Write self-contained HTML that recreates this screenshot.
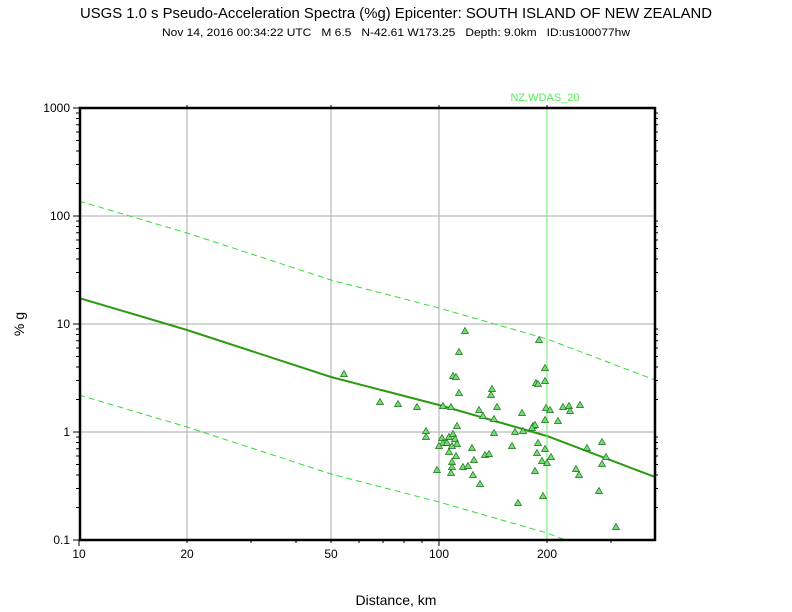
<!DOCTYPE html>
<html><head><meta charset="utf-8"><style>
html,body{margin:0;padding:0;background:#fff;}
svg{display:block;font-family:"Liberation Sans",sans-serif;}
</style></head><body>
<svg width="792" height="612" viewBox="0 0 792 612" xmlns="http://www.w3.org/2000/svg">
<defs>
<clipPath id="c"><rect x="80" y="108" width="575" height="432"/></clipPath>
<g id="yt">
<path d="M-3,-32.5h3M-3,-51.5h3M-3,-65h3M-3,-75.5h3M-3,-84h3M-3,-91.3h3M-3,-97.5h3M-3,-103h3" stroke="#000" stroke-width="1"/>
</g>
<g id="xt">
<path d="M108,0v3M172,0v3M217,0v3M252,0v3M280,0v3M304,0v3M325,0v3M343,0v3" stroke="#000" stroke-width="1"/>
</g>
<polygon id="t" points="0,-3.5 3.5,2.5 -3.5,2.5" fill="#6fe06f" stroke="#1a6a1a" stroke-width="0.7"/>
</defs>
<text x="396" y="18" font-size="15" text-anchor="middle" textLength="632" lengthAdjust="spacingAndGlyphs">USGS 1.0 s Pseudo-Acceleration Spectra (%g) Epicenter: SOUTH ISLAND OF NEW ZEALAND</text>
<text x="396" y="36" font-size="11" text-anchor="middle" xml:space="preserve" style="white-space:pre" textLength="468" lengthAdjust="spacingAndGlyphs">Nov 14, 2016 00:34:22 UTC   M 6.5   N-42.61 W173.25   Depth: 9.0km   ID:us100077hw</text>
<g stroke="#aaa" stroke-width="1">
<path d="M187,108V540M331,108V540M439,108V540M547,108V540"/>
<path d="M79,216H655M79,324H655M79,432H655"/>
</g>
<g clip-path="url(#c)">
<polyline points="79,298 187,330 331,377 439,405 547,436 655,477" fill="none" stroke="#2a9a10" stroke-width="2"/>
<polyline points="79,201 187,233 331,280 439,308 547,339 655,380" fill="none" stroke="#33dd33" stroke-width="1" stroke-dasharray="6,4"/>
<polyline points="79,395 187,427 331,474 439,502 547,533 655,574" fill="none" stroke="#33dd33" stroke-width="1" stroke-dasharray="6,4"/>
</g>
<line x1="547" y1="108" x2="547" y2="540" stroke="#66ee66" stroke-width="1"/>
<text x="545" y="101" font-size="11" fill="#55ee55" text-anchor="middle">NZ.WDAS_20</text>
<g>
<use href="#t" x="465" y="331"/><use href="#t" x="459" y="352"/><use href="#t" x="344" y="374"/><use href="#t" x="453" y="376"/><use href="#t" x="456" y="377"/>
<use href="#t" x="539" y="340"/><use href="#t" x="545" y="368"/><use href="#t" x="536" y="383"/><use href="#t" x="538" y="384"/><use href="#t" x="545" y="381"/>
<use href="#t" x="492" y="389"/><use href="#t" x="491" y="395"/><use href="#t" x="459" y="393"/><use href="#t" x="380" y="402"/><use href="#t" x="398" y="404"/>
<use href="#t" x="417" y="407"/><use href="#t" x="443" y="406"/><use href="#t" x="451" y="407"/><use href="#t" x="479" y="410"/><use href="#t" x="497" y="407"/>
<use href="#t" x="483" y="416"/><use href="#t" x="494" y="419"/><use href="#t" x="522" y="413"/><use href="#t" x="546" y="408"/><use href="#t" x="550" y="410"/>
<use href="#t" x="563" y="407"/><use href="#t" x="569" y="406"/><use href="#t" x="570" y="411"/><use href="#t" x="580" y="405"/><use href="#t" x="545" y="420"/>
<use href="#t" x="558" y="421"/><use href="#t" x="457" y="426"/><use href="#t" x="533" y="426"/><use href="#t" x="535" y="425"/><use href="#t" x="532" y="428"/>
<use href="#t" x="426" y="431"/><use href="#t" x="426" y="437"/><use href="#t" x="494" y="433"/><use href="#t" x="515" y="432"/><use href="#t" x="523" y="431"/>
<use href="#t" x="442" y="438"/><use href="#t" x="449" y="437"/><use href="#t" x="453" y="434"/><use href="#t" x="455" y="439"/><use href="#t" x="443" y="443"/>
<use href="#t" x="447" y="443"/><use href="#t" x="457" y="444"/><use href="#t" x="439" y="446"/><use href="#t" x="452" y="446"/><use href="#t" x="449" y="452"/>
<use href="#t" x="456" y="456"/><use href="#t" x="452" y="462"/><use href="#t" x="452" y="467"/><use href="#t" x="451" y="473"/><use href="#t" x="437" y="470"/>
<use href="#t" x="472" y="448"/><use href="#t" x="463" y="467"/><use href="#t" x="468" y="466"/><use href="#t" x="474" y="460"/><use href="#t" x="485" y="455"/>
<use href="#t" x="489" y="454"/><use href="#t" x="473" y="475"/><use href="#t" x="480" y="484"/><use href="#t" x="512" y="446"/><use href="#t" x="538" y="443"/>
<use href="#t" x="545" y="449"/><use href="#t" x="537" y="453"/><use href="#t" x="542" y="461"/><use href="#t" x="547" y="463"/><use href="#t" x="551" y="457"/>
<use href="#t" x="535" y="471"/><use href="#t" x="518" y="503"/><use href="#t" x="543" y="496"/><use href="#t" x="587" y="448"/><use href="#t" x="602" y="442"/>
<use href="#t" x="606" y="457"/><use href="#t" x="602" y="464"/><use href="#t" x="576" y="469"/><use href="#t" x="579" y="475"/><use href="#t" x="599" y="491"/>
<use href="#t" x="616" y="527"/>
</g>
<use href="#yt" x="79" y="216"/><use href="#yt" x="79" y="324"/><use href="#yt" x="79" y="432"/><use href="#yt" x="79" y="540"/>
<use href="#yt" x="658" y="216"/><use href="#yt" x="658" y="324"/><use href="#yt" x="658" y="432"/><use href="#yt" x="658" y="540"/>
<use href="#xt" x="79" y="540"/>
<path d="M547,540v3M611,540v3" stroke="#000" stroke-width="1"/>
<path d="M73,108h6M73,216h6M73,324h6M73,432h6M73,540h6M79,540v6M439,540v6" stroke="#000" stroke-width="1"/>
<path d="M187,108v-3M331,108v-3M439,108v-3M547,108v-3" stroke="#000" stroke-width="1"/>
<rect x="80" y="108" width="575" height="432" fill="none" stroke="#000" stroke-width="2.5"/>
<g font-size="12" text-anchor="end">
<text x="70" y="112">1000</text><text x="70" y="220">100</text><text x="70" y="328">10</text><text x="70" y="436">1</text><text x="70" y="544">0.1</text>
</g>
<g font-size="12" text-anchor="middle">
<text x="79" y="558">10</text><text x="187" y="558">20</text><text x="331" y="558">50</text><text x="439" y="558">100</text><text x="547" y="558">200</text>
</g>
<text x="396" y="605" font-size="14" text-anchor="middle">Distance, km</text>
<text transform="translate(24,324) rotate(-90)" font-size="14" text-anchor="middle">% g</text>
</svg>
</body></html>
